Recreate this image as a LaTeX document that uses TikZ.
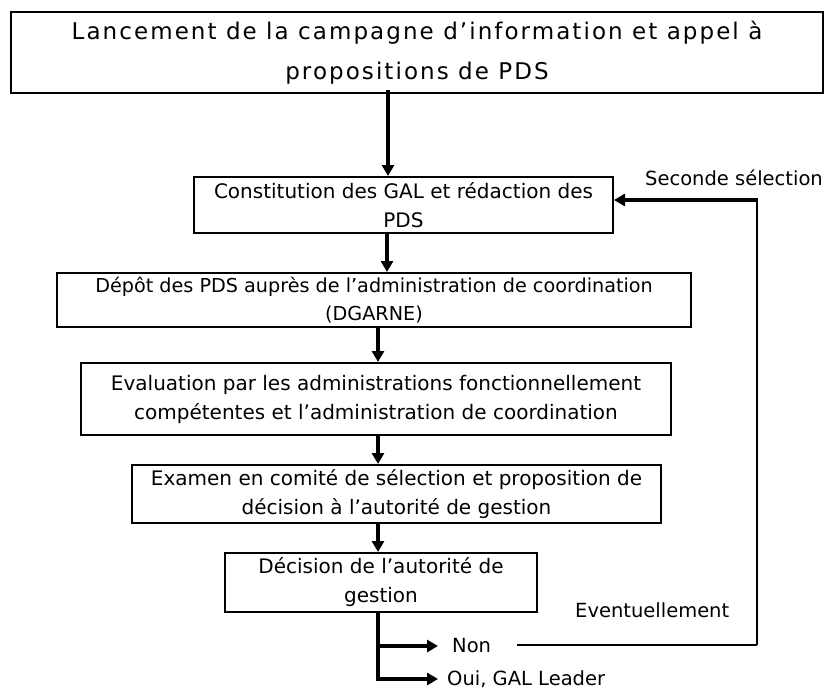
\documentclass[tikz,border=0pt]{standalone}
\usepackage{fontspec}
\setmainfont{DejaVu Sans}
\newfontfamily\headfont[LetterSpace=9]{DejaVu Sans}
\usetikzlibrary{arrows.meta}
\begin{document}
\begin{tikzpicture}[x=1pt,y=-1pt,
  stage/.style={draw, line width=2pt, rectangle, inner sep=0pt, align=center,
    font=\fontsize{20}{29}\selectfont},
  label/.style={inner sep=0pt, anchor=west, font=\fontsize{19.5}{24}\selectfont},
  flow/.style={line width=3.2pt, -{Triangle[length=11pt,width=12pt]}},
  loopline/.style={line width=2pt},
]
\useasboundingbox (0,0) rectangle (827,691);

% process boxes
\node[stage, minimum width=812, minimum height=81,
      font=\headfont\fontsize{23}{40}\selectfont] (b1) at (417,52.5)
  {Lancement de la campagne d’information et appel à\\propositions de PDS};
\node[stage, minimum width=419, minimum height=56] (b2) at (403.5,205)
  {Constitution des GAL et rédaction des\\PDS};
\node[stage, minimum width=634, minimum height=54,
      font=\fontsize{19.2}{28}\selectfont] (b3) at (374,300)
  {Dépôt des PDS auprès de l’administration de coordination\\(DGARNE)};
\node[stage, minimum width=590, minimum height=72] (b4) at (376,399)
  {Evaluation par les administrations fonctionnellement\\compétentes et l’administration de coordination};
\node[stage, minimum width=529, minimum height=58] (b5) at (396.5,494)
  {Examen en comité de sélection et proposition de\\décision à l’autorité de gestion};
\node[stage, minimum width=312, minimum height=59] (b6) at (381,582.5)
  {Décision de l’autorité de\\gestion};

% outcome and side labels
\node[label] (non) at (452,646) {Non};
\node[label] (oui) at (447,679) {Oui, GAL Leader};
\node[label] (ev) at (575,610) {Eventuellement};
\node[label] (sel) at (645,178) {Seconde sélection};

% vertical guide positions of the main arrows
\coordinate (c1) at (388,0);
\coordinate (c2) at (387,0);
\coordinate (c3) at (378,0);

% main flow
\draw[flow] ([yshift=4pt]b1.south -| c1) -- (b2.north -| c1);
\draw[flow] (b2.south -| c2) -- (b3.north -| c2);
\draw[flow] (b3.south -| c3) -- (b4.north -| c3);
\draw[flow] (b4.south -| c3) -- (b5.north -| c3);
\draw[flow] (b5.south -| c3) -- (b6.north -| c3);

% decision branches
\draw[flow, shorten >=9pt] (b6.south -| c3) |- (oui.west);
\draw[flow, shorten >=14pt] (c3 |- non.west) -- (non.west);

% return path for a second selection
\coordinate (nonEnd) at (517,645);
\coordinate (corner) at (757,645);
\coordinate (ret) at (757,200);
\draw[line width=1.6pt] (nonEnd) -- (corner);
\draw[loopline] (corner) -- (ret);
\draw[flow] ([xshift=1pt]ret) -- (ret -| b2.east);
\end{tikzpicture}
\end{document}
